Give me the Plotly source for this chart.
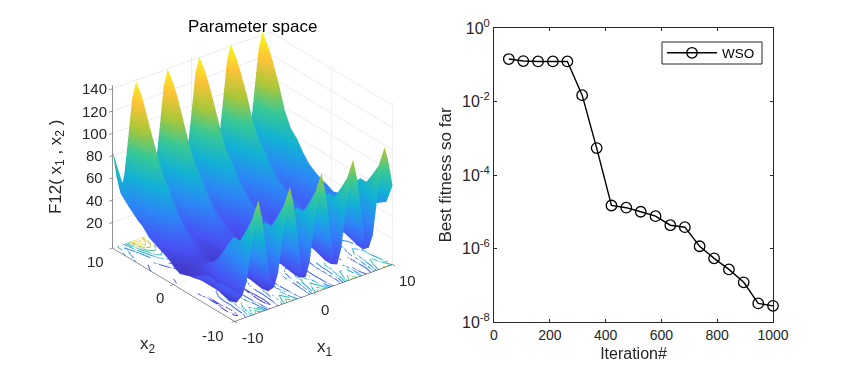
import numpy as np
import plotly.graph_objects as go

iterations = [53, 105, 158, 211, 263, 316, 368, 421, 474, 526, 579, 632, 684, 737, 789, 842, 895, 947, 1000]
best_fitness = [0.143, 0.126, 0.123, 0.123, 0.123, 0.0149, 5.4e-4, 1.48e-5, 1.29e-5, 1.0e-5, 7.6e-6, 4.3e-6, 3.8e-6,
                1.15e-6, 5.4e-7, 2.7e-7, 1.2e-7, 3.2e-8, 2.75e-8]
log_tick_vals = [1, 1e-2, 1e-4, 1e-6, 1e-8]
log_tick_text = ["10<sup>0</sup>", "10<sup>-2</sup>", "10<sup>-4</sup>", "10<sup>-6</sup>", "10<sup>-8</sup>"]

x1_values = [v / 2 for v in range(-20, 21)]
x2_values = list(range(-10, 11))
f12_rows = [
 [24,20,18,28,52,80,98,80,50,24,15,26,52,82,100,82,52,22,14,26,54,84,102,84,54,24,15,28,56,86,104,86,56,28,20,30,58,88,105,90,68],
 [24,14,8,18,38,63,78,64,38,15,8,18,40,65,80,66,40,17,10,20,42,67,82,68,42,20,12,22,44,69,84,70,46,24,15,26,48,71,85,71,50],
 [24,13,6,15,35,54,64,55,35,14,7,15,37,57,67,58,38,16,10,19,39,59,69,60,40,20,12,22,42,62,72,63,44,24,16,26,46,64,74,65,46],
 [22,13,7,14,29,45,52,45,29,14,8,15,31,48,55,48,32,16,11,18,34,51,58,52,35,20,14,22,38,54,61,55,39,25,18,26,41,58,64,58,42],
 [24,15,9,15,30,46,52,46,30,15,9,16,32,49,55,49,32,18,12,19,35,51,58,52,36,22,16,23,38,54,61,55,40,26,20,27,42,58,64,58,42],
 [22,14,9,15,26,37,42,37,26,14,9,15,28,40,46,41,29,16,12,18,31,44,50,44,32,20,15,21,34,48,54,48,36,24,18,25,38,51,57,51,38],
 [18,13,9,12,20,27,30,27,20,12,9,13,21,30,34,30,22,14,12,16,25,35,39,35,26,18,15,19,29,40,44,40,31,22,18,23,33,44,48,44,33],
 [14,11,9,10,15,20,21,20,15,10,8,11,17,24,26,24,17,13,11,14,21,29,32,29,22,16,14,17,25,34,37,34,27,21,18,22,30,39,42,39,30],
 [12,10,8,9,12,15,16,15,13,10,8,10,15,19,21,20,16,13,11,14,19,25,27,25,21,17,14,17,23,30,33,30,25,20,18,21,28,36,38,36,28],
 [10,8,7,8,10,12,13,12,10,9,8,10,13,17,18,17,15,13,11,13,18,22,24,23,20,17,14,17,22,28,31,29,25,21,18,21,27,34,37,34,27],
 [13,9,6,7,10,13,14,14,11,9,9,11,15,19,20,19,17,14,12,15,20,25,27,26,23,19,16,19,24,30,33,31,27,23,20,23,30,37,39,37,30],
 [18,13,8,10,13,17,19,18,15,13,10,13,17,23,25,24,20,16,13,16,22,28,31,30,25,20,17,20,26,33,37,35,30,25,21,25,31,39,43,39,31],
 [22,16,10,13,18,23,26,24,21,16,13,16,22,28,31,29,24,19,16,19,26,32,36,34,28,23,19,23,30,37,42,39,33,26,23,26,33,42,47,42,33],
 [23,18,13,17,24,31,34,32,26,20,16,20,27,34,38,35,29,23,19,23,30,38,42,40,32,25,21,25,33,42,46,43,35,28,23,27,36,46,50,46,36],
 [26,22,17,22,32,41,46,42,33,24,19,24,34,44,49,45,35,26,21,26,37,47,52,48,38,28,23,28,39,50,55,51,40,30,25,30,41,53,58,53,41],
 [32,26,21,27,40,53,60,54,41,28,22,28,41,55,62,56,43,30,24,30,44,57,64,58,45,31,25,32,46,59,66,60,47,33,27,33,48,62,68,62,47],
 [38,31,25,33,48,64,72,64,48,33,25,33,49,65,72,65,50,34,27,35,51,66,73,66,52,36,28,36,52,67,74,68,53,38,29,38,53,68,75,68,53],
 [46,37,28,38,57,77,86,78,57,38,28,38,57,78,87,78,58,39,29,39,59,79,88,80,60,40,30,40,60,80,89,80,61,41,31,42,61,81,90,81,61],
 [56,44,33,45,69,94,104,95,70,46,33,46,70,96,106,97,71,47,34,47,71,98,108,99,72,48,35,48,72,100,110,101,74,49,36,50,76,102,112,102,76],
 [70,52,38,53,83,113,128,113,85,55,40,55,85,115,129,116,86,56,40,56,86,117,130,117,87,57,41,57,87,118,131,118,88,58,42,58,88,119,132,119,88],
 [85,60,44,59,91,125,139,125,91,59,42,59,91,126,140,126,92,60,42,60,92,127,141,127,93,60,43,60,93,128,142,128,93,60,43,60,94,128,143,128,94],
]
contour_levels = [10, 25, 40, 55, 70, 85, 100, 115, 130]
z_ticks = [20, 40, 60, 80, 100, 120, 140]
xy_ticks = [-10, 0, 10]
Z_FLOOR = -3
Z_TOP = 143

parula_stops = [0, 1 / 7, 2 / 7, 3 / 7, 4 / 7, 5 / 7, 6 / 7, 1]
parula_rgb = [(62, 38, 168), (72, 82, 244), (45, 135, 247), (18, 177, 214), (55, 200, 151), (171, 199, 57),
              (254, 195, 56), (249, 251, 20)]
parula = [[s, "rgb(%d,%d,%d)" % c] for s, c in zip(parula_stops, parula_rgb)]

Z = np.array(f12_rows, dtype=float)
dark = "#262626"
FONT = "Liberation Sans, Arial"


def px(x):
    return (x - 8) / 867


def py(y):
    return 1 - (y - 8) / 371


def label(text, x, y, z, dx, dy, size=15, angle=0):
    return dict(text=text, x=x, y=y, z=z, xshift=dx, yshift=-dy, showarrow=False, textangle=angle,
                font=dict(family=FONT, size=size, color=dark))


def level_colour(level):
    t = (level - Z_FLOOR) / (Z_TOP - Z_FLOOR)
    return "rgb(%d,%d,%d)" % tuple(np.interp(t, parula_stops, [c[i] for c in parula_rgb]) for i in range(3))


def contour_polylines(level):
    """Marching squares over the height table, chained into continuous lines with gaps between them."""
    xv, yv = np.array(x1_values), np.array(x2_values, dtype=float)
    segments = []
    for j in range(Z.shape[0] - 1):
        for i in range(Z.shape[1] - 1):
            corners = [(xv[i], yv[j], Z[j, i]), (xv[i + 1], yv[j], Z[j, i + 1]),
                       (xv[i + 1], yv[j + 1], Z[j + 1, i + 1]), (xv[i], yv[j + 1], Z[j + 1, i])]
            hits = []
            for k in range(4):
                a, b = corners[k], corners[(k + 1) % 4]
                if (a[2] - level) * (b[2] - level) < 0:
                    f = (level - a[2]) / (b[2] - a[2])
                    hits.append((round(a[0] + f * (b[0] - a[0]), 5), round(a[1] + f * (b[1] - a[1]), 5)))
            for m in range(0, len(hits) - 1, 2):
                segments.append((hits[m], hits[m + 1]))
    touching = {}
    for n, (p, q) in enumerate(segments):
        touching.setdefault(p, []).append(n)
        touching.setdefault(q, []).append(n)
    used = [False] * len(segments)
    xs, ys = [], []
    for n in sorted(range(len(segments)), key=lambda s: min(len(touching[segments[s][0]]), len(touching[segments[s][1]]))):
        if used[n]:
            continue
        used[n] = True
        p, q = segments[n]
        if len(touching[q]) == 1:
            p, q = q, p
        line = [p, q]
        while True:
            nxt = [s for s in touching[line[-1]] if not used[s]]
            if not nxt:
                break
            used[nxt[0]] = True
            a, b = segments[nxt[0]]
            line.append(b if a == line[-1] else a)
        xs += [pt[0] for pt in line] + [None]
        ys += [pt[1] for pt in line] + [None]
    return xs, ys


fig = go.Figure()
fig.add_trace(go.Surface(x=x1_values, y=x2_values, z=Z, colorscale=parula, cmin=Z_FLOOR, cmax=Z_TOP, showscale=False,
                         lighting=dict(ambient=1, diffuse=0, specular=0, fresnel=0, roughness=1),
                         contours=dict(x=dict(highlight=False), y=dict(highlight=False), z=dict(highlight=False)),
                         hoverinfo="skip"))
for level in contour_levels:
    cx, cy = contour_polylines(level)
    fig.add_trace(go.Scatter3d(x=cx, y=cy, z=[Z_FLOOR if v is not None else None for v in cx], mode="lines",
                               line=dict(color=level_colour(level), width=2), showlegend=False, hoverinfo="skip"))

axis3d = dict(showbackground=False, showgrid=True, gridcolor="#dcdcdc", gridwidth=1, showspikes=False, zeroline=False,
              showline=True, linecolor=dark, linewidth=1, ticks="outside", ticklen=4, tickcolor=dark,
              showticklabels=False, title=dict(text=""))
scene_notes = (
    [label(str(v), -10, 10, v, -18, 0) for v in z_ticks]
    + [label("-10", -10, -10, Z_FLOOR, 18, 16), label("0", 0, -10, Z_FLOOR, 11, 16), label("10", 10, -10, Z_FLOOR, 15, 16)]
    + [label("-10", -10, -10, Z_FLOOR, -22, 14), label("0", -10, 0, Z_FLOOR, -14, 13), label("10", -10, 10, Z_FLOOR, -17, 13)]
    + [label("x<sub>1</sub>", 0, -10, Z_FLOOR, 11, 55, 17), label("x<sub>2</sub>", -10, 0, Z_FLOOR, -26, 60, 17),
       label("F12( x<sub>1</sub> , x<sub>2</sub> )", -10, 10, 70, -56, 0, 17, -90)]
)
fig.update_layout(
    width=867, height=371, margin=dict(l=0, r=0, t=0, b=0), paper_bgcolor="white", plot_bgcolor="white",
    font=dict(family=FONT, size=14, color=dark), showlegend=True,
    scene=dict(
        domain=dict(x=[px(8), px(497)], y=[py(342), py(8)]),
        aspectmode="manual", aspectratio=dict(x=1.196, y=1.196, z=1.10),
        camera=dict(projection=dict(type="orthographic"), eye=dict(x=-0.60, y=-0.775, z=0.514),
                    center=dict(x=0, y=0, z=0), up=dict(x=0, y=0, z=1)),
        xaxis=dict(axis3d, range=[-10, 10], tickvals=xy_ticks),
        yaxis=dict(axis3d, range=[-10, 10], tickvals=xy_ticks),
        zaxis=dict(axis3d, range=[Z_FLOOR, Z_TOP], tickvals=z_ticks),
        annotations=scene_notes,
    ),
    xaxis=dict(domain=[px(494), px(773)], range=[0, 1000], tickvals=[0, 200, 400, 600, 800, 1000], ticks="inside",
               ticklen=3, tickcolor=dark, linecolor=dark, linewidth=1, mirror="ticks", showline=True, showgrid=False,
               zeroline=False, automargin=False, tickfont=dict(size=14),
               title=dict(text="Iteration#", font=dict(size=16), standoff=6)),
    yaxis=dict(domain=[py(322), py(28)], type="log", range=[-8, 0], tickvals=log_tick_vals, ticktext=log_tick_text,
               ticks="inside", ticklen=3, tickcolor=dark, linecolor=dark, linewidth=1, mirror="ticks", showline=True,
               showgrid=False, zeroline=False, automargin=False, tickfont=dict(size=16),
               title=dict(text="Best fitness so far", font=dict(size=17), standoff=6)),
    legend=dict(x=px(662), xanchor="left", y=py(53), yanchor="middle", borderwidth=0,
                bgcolor="rgba(0,0,0,0)", font=dict(size=13.5, color="black"), itemwidth=50),
    shapes=[dict(type="rect", xref="paper", yref="paper", x0=px(662), x1=px(762), y0=py(64), y1=py(42),
                 line=dict(color=dark, width=1), fillcolor="white", layer="below")],
    annotations=[dict(text="Parameter space", x=px(252), y=py(15), xanchor="center", xref="paper", yref="paper",
                      showarrow=False, font=dict(size=17, color="black"))],
)
fig.add_trace(go.Scatter(x=iterations, y=best_fitness, mode="lines+markers", name="WSO", cliponaxis=False,
                         line=dict(color="black", width=1.4),
                         marker=dict(symbol="circle-open", size=10.5, color="black", line=dict(width=1.3, color="black")),
                         hoverinfo="skip"))
fig.write_html("out.html")
